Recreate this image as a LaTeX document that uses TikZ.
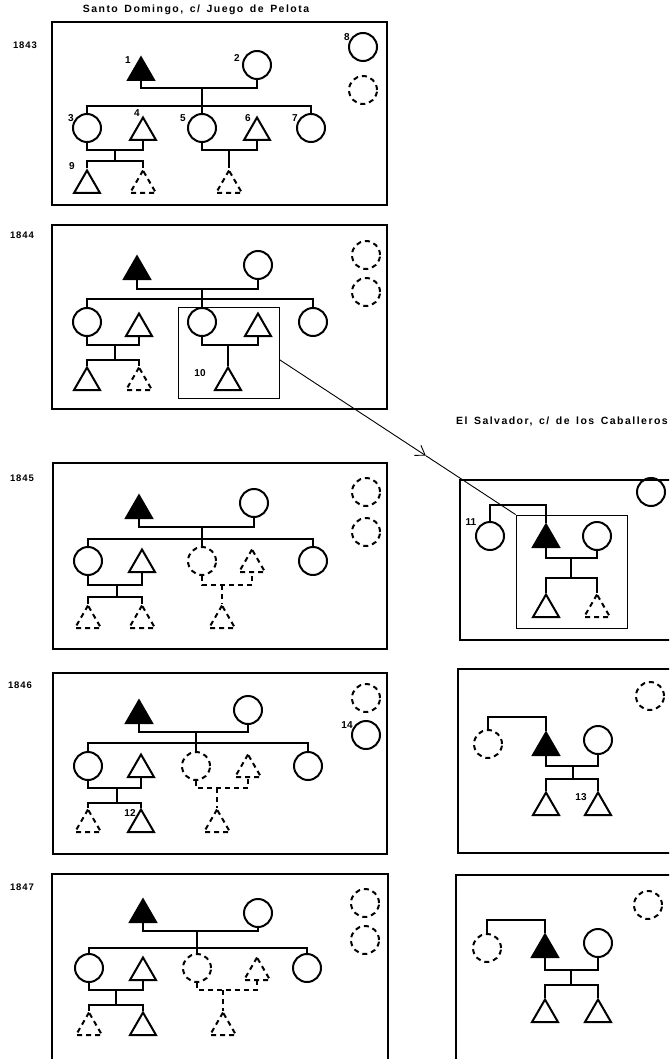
\documentclass[tikz,border=0pt]{standalone}
\usepackage{fontspec}
\setmainfont{Liberation Sans}
\newfontfamily\wide[LetterSpace=10]{Liberation Sans}
\newfontfamily\streetfont[LetterSpace=14,WordSpace=1.5]{Liberation Sans}
\usetikzlibrary{shapes.geometric,arrows.meta}

\tikzset{
  fem/.style={circle,draw,line width=2pt,minimum size=28pt,inner sep=0pt},
  mal/.style={regular polygon,regular polygon sides=3,draw,line width=2pt,minimum size=30pt,inner sep=0pt},
  ego/.style={mal,fill=black},
  gone/.style={dash pattern=on 5pt off 4pt},
  kin/.style={line width=2pt},
  house/.style={line width=2pt},
  group/.style={draw,line width=0.9pt,inner sep=0pt},
  num/.style={font=\bfseries\fontsize{10}{10}\selectfont,inner sep=0pt},
  year/.style={font=\wide\bfseries\fontsize{9.5}{9.5}\selectfont,inner sep=0pt},
  street/.style={font=\streetfont\bfseries\fontsize{10.5}{10.5}\selectfont,inner sep=0pt}
}

\begin{document}
\begin{tikzpicture}[x=1pt,y=-1pt]
  \useasboundingbox (0,0) rectangle (669,1059);
  \clip (0,0) rectangle (669,1059);

  \node[street] (tsd) at (196,10) {Santo Domingo, c/ Juego de Pelota};
  \node[street,anchor=east] (tsv) at (668,422) {El Salvador, c/ de los Caballeros};

  % 1843
  \node[year] (ya) at (25,45) {1843};
  \draw[house] (52,22) rectangle (387,205);
  \begin{scope}
    \node[ego] (fa) at (141,72.5) {};
    \node[fem] (ma) at (257,65) {};
    \node[fem] (ca1) at (87,128) {};
    \node[mal] (ha1) at (143,132.5) {};
    \node[fem] (ca2) at (202,128) {};
    \node[mal] (ha2) at (257,132.5) {};
    \node[fem] (ca3) at (311,128) {};
    \node[mal] (ga1) at (87,185.5) {};
    \node[mal,gone] (ga2) at (143,185.5) {};
    \node[mal,gone] (ga3) at (229,185.5) {};
    \node[fem] (oa1) at (363,47) {};
    \node[fem,gone] (oa2) at (363,90) {};
    \coordinate (ua) at (202,88);
    \coordinate (sa) at (202,106);
    \coordinate (ua1) at (115,150);
    \coordinate (sa1) at (115,161);
    \coordinate (ua2) at (229,150);
  \end{scope}
  \begin{scope}[every path/.style={kin}]
    \draw (fa.south) |- (ua) -| (ma.south);
    \draw (ua) -- (ca2.north);
    \draw (ca1.north) |- (sa) -| (ca3.north);
    \draw (ca1.south) |- (ua1) -| (ha1.south);
    \draw (ua1) -- (sa1);
    \draw (ga1.north) |- (sa1) -| (ga2.north);
    \draw (ca2.south) |- (ua2) -| (ha2.south);
    \draw (ua2) -- (ga3.north);
  \end{scope}
  \begin{scope}[every node/.style={num}]
    \node (n1) at (128,60) {1};
    \node (n2) at (237,58) {2};
    \node (n3) at (71,118) {3};
    \node (n4) at (137,113) {4};
    \node (n5) at (183,118) {5};
    \node (n6) at (248,118) {6};
    \node (n7) at (295,118) {7};
    \node (n8) at (347,37) {8};
    \node (n9) at (72,166) {9};
  \end{scope}

  % 1844
  \node[year] (yb) at (22,235) {1844};
  \draw[house] (52,225) rectangle (387,409);
  \begin{scope}
    \node[ego] (fb) at (137,271.5) {};
    \node[fem] (mb) at (258,265) {};
    \node[fem] (cb1) at (87,322) {};
    \node[mal] (hb1) at (139,328.5) {};
    \node[fem] (cb2) at (202,322) {};
    \node[mal] (hb2) at (258,328.5) {};
    \node[fem] (cb3) at (313,322) {};
    \node[mal] (gb1) at (87,382.5) {};
    \node[mal,gone] (gb2) at (139,382.5) {};
    \node[mal] (gb3) at (228,382.5) {};
    \node[fem,gone] (ob1) at (366,255) {};
    \node[fem,gone] (ob2) at (366,292) {};
    \node[group,minimum width=101pt,minimum height=91pt] (selb) at (228.5,352.5) {};
    \coordinate (ub) at (202,289);
    \coordinate (sb) at (202,299);
    \coordinate (ub1) at (115,345);
    \coordinate (sb1) at (115,360);
    \coordinate (ub2) at (228,345);
  \end{scope}
  \begin{scope}[every path/.style={kin}]
    \draw (fb.south) |- (ub) -| (mb.south);
    \draw (ub) -- (cb2.north);
    \draw (cb1.north) |- (sb) -| (cb3.north);
    \draw (cb1.south) |- (ub1) -| (hb1.south);
    \draw (ub1) -- (sb1);
    \draw (gb1.north) |- (sb1) -| (gb2.north);
    \draw (cb2.south) |- (ub2) -| (hb2.south);
    \draw (ub2) -- (gb3.north);
  \end{scope}
  \node[num] (n10) at (200,373) {10};

  % 1845
  \node[year] (yc) at (22,478) {1845};
  \draw[house] (53,463) rectangle (387,649);
  \begin{scope}
    \node[ego] (fc) at (139,510.5) {};
    \node[fem] (mc) at (254,503) {};
    \node[fem] (cc1) at (88,561) {};
    \node[mal] (hc1) at (142,564.5) {};
    \node[fem,gone] (cc2) at (202,561) {};
    \node[mal,gone] (hc2) at (252,564.5) {};
    \node[fem] (cc3) at (313,561) {};
    \node[mal,gone] (gc1) at (88,620.5) {};
    \node[mal,gone] (gc2) at (142,620.5) {};
    \node[mal,gone] (gc3) at (222,620.5) {};
    \node[fem,gone] (oc1) at (366,492) {};
    \node[fem,gone] (oc2) at (366,532) {};
    \coordinate (uc) at (202,527);
    \coordinate (sc) at (202,539);
    \coordinate (uc1) at (117,585);
    \coordinate (sc1) at (117,597);
    \coordinate (uc2) at (222,585);
  \end{scope}
  \begin{scope}[every path/.style={kin}]
    \draw (fc.south) |- (uc) -| (mc.south);
    \draw (uc) -- (cc2.north);
    \draw (cc1.north) |- (sc) -| (cc3.north);
    \draw (cc1.south) |- (uc1) -| (hc1.south);
    \draw (uc1) -- (sc1);
    \draw (gc1.north) |- (sc1) -| (gc2.north);
    \draw[gone] (cc2.south) |- (uc2) -| (hc2.south);
    \draw[gone] (uc2) -- (gc3.north);
  \end{scope}

  % 1846
  \node[year] (yd) at (20,685) {1846};
  \draw[house] (53,673) rectangle (387,854);
  \begin{scope}
    \node[ego] (fd) at (139,715.5) {};
    \node[fem] (md) at (248,710) {};
    \node[fem] (cd1) at (88,766) {};
    \node[mal] (hd1) at (141,769.5) {};
    \node[fem,gone] (cd2) at (196,766) {};
    \node[mal,gone] (hd2) at (248,769.5) {};
    \node[fem] (cd3) at (308,766) {};
    \node[mal,gone] (gd1) at (88,824.5) {};
    \node[mal] (gd2) at (141,824.5) {};
    \node[mal,gone] (gd3) at (217,824.5) {};
    \node[fem,gone] (od1) at (366,698) {};
    \node[fem] (od2) at (366,735) {};
    \coordinate (ud) at (196,732);
    \coordinate (sd) at (196,743);
    \coordinate (ud1) at (117,788);
    \coordinate (sd1) at (117,803);
    \coordinate (ud2) at (217,788);
  \end{scope}
  \begin{scope}[every path/.style={kin}]
    \draw (fd.south) |- (ud) -| (md.south);
    \draw (ud) -- (cd2.north);
    \draw (cd1.north) |- (sd) -| (cd3.north);
    \draw (cd1.south) |- (ud1) -| (hd1.south);
    \draw (ud1) -- (sd1);
    \draw (gd1.north) |- (sd1) -| (gd2.north);
    \draw[gone] (cd2.south) |- (ud2) -| (hd2.south);
    \draw[gone] (ud2) -- (gd3.north);
  \end{scope}
  \node[num] (n12) at (130,813) {12};
  \node[num] (n14) at (347,725) {14};

  % 1847
  \node[year] (ye) at (22,887) {1847};
  \draw[house] (52,874) rectangle (388,1075);
  \begin{scope}
    \node[ego] (fe) at (143,914.5) {};
    \node[fem] (me) at (258,913) {};
    \node[fem] (ce1) at (89,968) {};
    \node[mal] (he1) at (143,972.5) {};
    \node[fem,gone] (ce2) at (197,968) {};
    \node[mal,gone] (he2) at (257,972.5) {};
    \node[fem] (ce3) at (307,968) {};
    \node[mal,gone] (ge1) at (89,1027.5) {};
    \node[mal] (ge2) at (143,1027.5) {};
    \node[mal,gone] (ge3) at (223,1027.5) {};
    \node[fem,gone] (oe1) at (365,903) {};
    \node[fem,gone] (oe2) at (365,940) {};
    \coordinate (ue) at (197,931);
    \coordinate (se) at (197,948);
    \coordinate (ue1) at (116,990);
    \coordinate (se1) at (116,1005);
    \coordinate (ue2) at (223,990);
  \end{scope}
  \begin{scope}[every path/.style={kin}]
    \draw (fe.south) |- (ue) -| (me.south);
    \draw (ue) -- (ce2.north);
    \draw (ce1.north) |- (se) -| (ce3.north);
    \draw (ce1.south) |- (ue1) -| (he1.south);
    \draw (ue1) -- (se1);
    \draw (ge1.north) |- (se1) -| (ge2.north);
    \draw[gone] (ce2.south) |- (ue2) -| (he2.south);
    \draw[gone] (ue2) -- (ge3.north);
  \end{scope}

  % El Salvador 1845
  \draw[house] (460,480) rectangle (690,640);
  \begin{scope}
    \node[fem] (wx) at (490,536) {};
    \node[ego] (fx) at (546,539.5) {};
    \node[fem] (mx) at (597,536) {};
    \node[mal] (gx1) at (546,609.5) {};
    \node[mal,gone] (gx2) at (597,609.5) {};
    \node[fem] (ox) at (651,492) {};
    \node[group,minimum width=111pt,minimum height=113pt] (selx) at (571.5,571.5) {};
    \coordinate (tx) at (518,505);
    \coordinate (ux) at (571,558);
    \coordinate (sx) at (571,578);
  \end{scope}
  \begin{scope}[every path/.style={kin}]
    \draw (wx.north) |- (tx) -| (fx.north);
    \draw (fx.south) |- (ux) -| (mx.south);
    \draw (ux) -- (sx);
    \draw (gx1.north) |- (sx) -| (gx2.north);
  \end{scope}
  \node[num] (n11) at (471,522) {11};

  % El Salvador 1846
  \draw[house] (458,669) rectangle (690,853);
  \begin{scope}
    \node[fem,gone] (wy) at (488,744) {};
    \node[ego] (fy) at (546,747.5) {};
    \node[fem] (my) at (598,740) {};
    \node[mal] (gy1) at (546,807.5) {};
    \node[mal] (gy2) at (598,807.5) {};
    \node[fem,gone] (oy) at (650,696) {};
    \coordinate (ty) at (517,717);
    \coordinate (uy) at (573,766);
    \coordinate (sy) at (573,779);
  \end{scope}
  \begin{scope}[every path/.style={kin}]
    \draw (wy.north) |- (ty) -| (fy.north);
    \draw (fy.south) |- (uy) -| (my.south);
    \draw (uy) -- (sy);
    \draw (gy1.north) |- (sy) -| (gy2.north);
  \end{scope}
  \node[num] (n13) at (581,797) {13};

  % El Salvador 1847
  \draw[house] (456,875) rectangle (690,1075);
  \begin{scope}
    \node[fem,gone] (wz) at (487,948) {};
    \node[ego] (fz) at (545,949.5) {};
    \node[fem] (mz) at (598,943) {};
    \node[mal] (gz1) at (545,1014.5) {};
    \node[mal] (gz2) at (598,1014.5) {};
    \node[fem,gone] (oz) at (648,905) {};
    \coordinate (tz) at (516,920);
    \coordinate (uz) at (571,970);
    \coordinate (sz) at (571,985);
  \end{scope}
  \begin{scope}[every path/.style={kin}]
    \draw (wz.north) |- (tz) -| (fz.north);
    \draw (fz.south) |- (uz) -| (mz.south);
    \draw (uz) -- (sz);
    \draw (gz1.north) |- (sz) -| (gz2.north);
  \end{scope}

  % move of household 10
  \path (selb.-8) -- (selx.north west) coordinate[pos=0.62] (mv);
  \draw[line width=0.9pt,-{Straight Barb[length=9pt,width=12pt]}] (selb.-8) -- (mv);
  \draw[line width=0.9pt] (mv) -- (selx.north west);
\end{tikzpicture}
\end{document}
